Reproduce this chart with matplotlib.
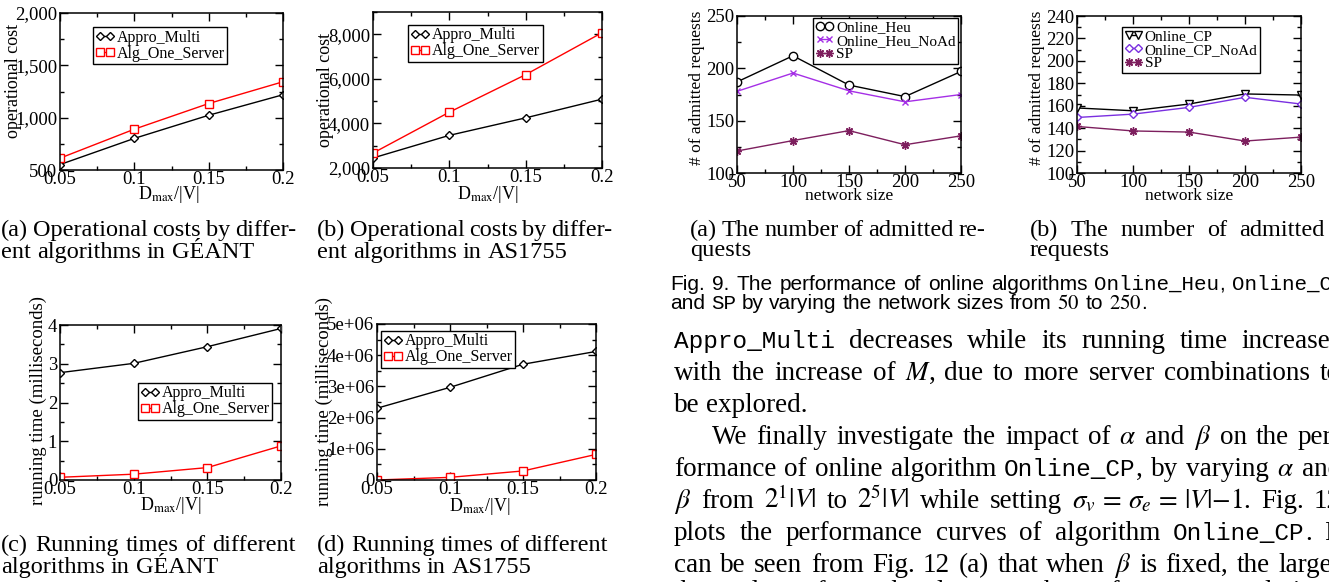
import matplotlib
matplotlib.use('Agg')
import matplotlib.pyplot as plt
from matplotlib.ticker import MultipleLocator, FuncFormatter

W, H = 1329, 582
plt.rcParams['font.family'] = ['Liberation Serif', 'DejaVu Serif']
plt.rcParams['mathtext.fontset'] = 'stix'

# ---------------- data ----------------
dmax = [0.05, 0.1, 0.15, 0.2]
geant_cost_multi = [552, 802, 1023, 1219]
geant_cost_one = [613, 890, 1135, 1343]
as_cost_multi = [2450, 3465, 4250, 5090]
as_cost_one = [2670, 4505, 6190, 8070]
geant_time_multi = [2.77, 3.01, 3.44, 3.91]
geant_time_one = [0.07, 0.15, 0.32, 0.88]
as_time_multi = [2.30e6, 2.97e6, 3.71e6, 4.12e6]
as_time_one = [0.0, 0.085e6, 0.29e6, 0.82e6]

net_size = [50, 100, 150, 200, 250]
heu = [187, 212, 184, 173, 197]
heu_noad = [178, 195.5, 178.5, 168, 175]
sp_a = [121, 131, 140.5, 127, 135.5]
cp = [158, 155.5, 161.5, 170.5, 169.5]
cp_noad = [149.5, 152.5, 158.5, 167.5, 161.5]
sp_b = [141.5, 137.5, 136.5, 128.5, 132]

name_multi, name_one = 'Appro_Multi', 'Alg_One_Server'
name_heu, name_heu_noad, name_sp = 'Online_Heu', 'Online_Heu_NoAd', 'SP'
name_cp, name_cp_noad = 'Online_CP', 'Online_CP_NoAd'

RED = '#ff0000'
PURPLE = '#a52fe6'
VIOLET = '#7a2fe0'
MAROON = '#7d1f5e'

fig = plt.figure(figsize=(W / 100, H / 100), dpi=100)
renderer = fig.canvas.get_renderer()


def make_ax(l, t, r, b):
    return fig.add_axes([l / W, 1 - b / H, (r - l) / W, (b - t) / H])


def style(ax, xlim, ylim, xmaj, xmin, ymaj, ymin, xfmt, yfmt, fs=13.5):
    ax.set_xlim(xlim)
    ax.set_ylim(ylim)
    ax.xaxis.set_major_locator(MultipleLocator(xmaj))
    ax.xaxis.set_minor_locator(MultipleLocator(xmin))
    ax.yaxis.set_major_locator(MultipleLocator(ymaj))
    ax.yaxis.set_minor_locator(MultipleLocator(ymin))
    ax.xaxis.set_major_formatter(FuncFormatter(xfmt))
    ax.yaxis.set_major_formatter(FuncFormatter(yfmt))
    ax.tick_params(which='both', direction='in', top=True, right=True,
                   width=1.0, labelsize=fs)
    ax.tick_params(which='major', length=6)
    ax.tick_params(which='minor', length=3)
    ax.tick_params(axis='x', pad=1)
    ax.tick_params(axis='y', pad=2)
    for s in ax.spines.values():
        s.set_linewidth(1.1)


def legend(ax, anchor, fs=11.5):
    leg = ax.legend(loc='upper left', bbox_to_anchor=anchor, frameon=True,
                    fancybox=False, edgecolor='black', framealpha=1,
                    numpoints=2, handlelength=1.2, handletextpad=0.15,
                    borderpad=0.15, labelspacing=0.0, borderaxespad=0,
                    fontsize=fs)
    leg.get_frame().set_linewidth(1.0)


fmt_g = lambda v, p: f'{v:g}'
fmt_comma = lambda v, p: f'{v:,.0f}'
fmt_int = lambda v, p: f'{v:.0f}'
fmt_e = lambda v, p: '0' if abs(v) < 1 else f'{v / 1e6:.0f}e+06'

xl_dmax = r'D$_{\mathrm{max}}$/|V|'

mk_multi = dict(color='black', marker='D', ms=4.2, mfc='white', mew=1.0, lw=1.0)
mk_one = dict(color=RED, marker='s', ms=5.2, mfc='white', mew=1.0, lw=1.0)

# (a) operational cost GEANT
ax = make_ax(60, 13, 283, 170)
ax.plot(dmax, geant_cost_multi, label=name_multi, **mk_multi)
ax.plot(dmax, geant_cost_one, label=name_one, **mk_one)
style(ax, (0.05, 0.2), (500, 2000), 0.05, 0.025, 500, 250, fmt_g, fmt_comma)
ax.set_ylabel('operational cost', fontsize=13)
ax.yaxis.set_label_coords(-0.17, 0.57)
ax.set_xlabel(xl_dmax, fontsize=13)
ax.xaxis.set_label_coords(0.49, -0.09)
legend(ax, (0.148, 0.91))

# (b) operational cost AS1755
ax = make_ax(373, 12, 602, 168)
ax.plot(dmax, as_cost_multi, label=name_multi, **mk_multi)
ax.plot(dmax, as_cost_one, label=name_one, **mk_one)
style(ax, (0.05, 0.2), (2000, 9000), 0.05, 0.025, 2000, 1000, fmt_g, fmt_comma)
ax.set_ylabel('operational cost', fontsize=13)
ax.yaxis.set_label_coords(-0.17, 0.5)
ax.set_xlabel(xl_dmax, fontsize=13)
ax.xaxis.set_label_coords(0.5, -0.1)
legend(ax, (0.153, 0.917))

# (c) running time GEANT
ax = make_ax(60, 325, 281, 480)
ax.plot(dmax, geant_time_multi, label=name_multi, **mk_multi)
ax.plot(dmax, geant_time_one, label=name_one, **mk_one)
style(ax, (0.05, 0.2), (0, 4), 0.05, 0.025, 1, 0.5, fmt_g, fmt_int)
ax.set_ylabel('running time (milliseconds)', fontsize=13.5)
ax.yaxis.set_label_coords(-0.06, 0.51)
ax.set_xlabel(xl_dmax, fontsize=13)
ax.xaxis.set_label_coords(0.5, -0.1)
legend(ax, (0.353, 0.626))

# (d) running time AS1755
ax = make_ax(377, 324, 596, 480)
ax.plot(dmax, as_time_multi, label=name_multi, **mk_multi)
ax.plot(dmax, as_time_one, label=name_one, **mk_one)
style(ax, (0.05, 0.2), (0, 5e6), 0.05, 0.025, 1e6, 0.5e6, fmt_g, fmt_e)
ax.set_ylabel('running time (milliseconds)', fontsize=13.5)
ax.yaxis.set_label_coords(-0.2, 0.5)
ax.set_xlabel(xl_dmax, fontsize=13)
ax.xaxis.set_label_coords(0.47, -0.1)
legend(ax, (0.018, 0.955))

# right (a)
ax = make_ax(737, 16, 961, 173)
ax.plot(net_size, heu, label=name_heu, color='black', marker='o', ms=6,
        mfc='white', mew=1.0, lw=1.0)
ax.plot(net_size, heu_noad, label=name_heu_noad, color=PURPLE, marker='x',
        ms=5, mew=1.0, lw=1.0)
ax.plot(net_size, sp_a, label=name_sp, color=MAROON, marker=(8, 2, 0),
        ms=6, mew=1.0, lw=1.0)
style(ax, (50, 250), (100, 250), 50, 25, 50, 25, fmt_int, fmt_int)
ax.set_ylabel('# of admitted requests', fontsize=12.5)
ax.yaxis.set_label_coords(-0.143, 0.54)
ax.set_xlabel('network size', fontsize=12.5)
ax.xaxis.set_label_coords(0.5, -0.095)
legend(ax, (0.34, 0.987), fs=11)

# right (b)
ax = make_ax(1077, 16, 1301, 173)
ax.plot(net_size, cp, label=name_cp, color='black', marker='v', ms=6,
        mfc='white', mew=1.0, lw=1.0)
ax.plot(net_size, cp_noad, label=name_cp_noad, color=VIOLET, marker='D',
        ms=4.5, mfc='white', mew=1.0, lw=1.0)
ax.plot(net_size, sp_b, label=name_sp, color=MAROON, marker=(8, 2, 0),
        ms=6, mew=1.0, lw=1.0)
style(ax, (50, 250), (100, 240), 50, 25, 20, 10, fmt_int, fmt_int)
ax.set_ylabel('# of admitted requests', fontsize=12.5)
ax.yaxis.set_label_coords(-0.143, 0.54)
ax.set_xlabel('network size', fontsize=12.5)
ax.xaxis.set_label_coords(0.5, -0.095)
legend(ax, (0.20, 0.93), fs=11)

# ---------------- text helpers ----------------
FONTS = {
    'serif': (dict(family=['Liberation Serif', 'DejaVu Serif']), 1.0),
    'mono': (dict(family=['Liberation Mono', 'DejaVu Sans Mono']), 0.9),
    'monoc': (dict(family=['Liberation Mono', 'DejaVu Sans Mono']), 1.0),
    'sans': (dict(family=['Liberation Sans Narrow', 'Liberation Sans', 'DejaVu Sans']), 1.0),
}


def text_width(s, key, size):
    kw, sc = FONTS[key]
    t = fig.text(0, 0, s, fontsize=size * sc, **kw)
    w = t.get_window_extent(renderer).width
    t.remove()
    return w


def space_width(key, size):
    return text_width('x x', key, size) - text_width('xx', key, size)


def tokenize(spec):
    """spec: list of (text, key); text split on spaces; '~' prefix means glued."""
    toks = []
    for s, key in spec:
        glued = s.startswith('~')
        if glued:
            s = s[1:]
        for i, word in enumerate(s.split(' ')):
            if word == '':
                continue
            toks.append((word, key, not (glued and i == 0) and len(toks) > 0))
    return toks


def draw_line(spec, x0, ybase, size, right=None, color='black', spkey='serif'):
    toks = tokenize(spec)
    widths = [text_width(w, k, size) for w, k, _ in toks]
    ngaps = sum(1 for _, _, g in toks if g)
    sp = space_width(spkey, size)
    if right is not None and ngaps:
        gap = (right - x0 - sum(widths)) / ngaps
        gap = max(gap, 0.6 * sp)
    else:
        gap = sp
    x = x0
    for (w, k, g), wd in zip(toks, widths):
        if g:
            x += gap
        kw, sc = FONTS[k]
        fig.text(x / W, 1 - ybase / H, w, fontsize=size * sc, va='baseline',
                 ha='left', color=color, **kw)
        x += wd


# ---------------- sub-captions ----------------
cap_size = 17.5
draw_line([('(a) Operational costs by differ-', 'serif')], 1, 236, cap_size, right=296)
draw_line([('ent algorithms in GÉANT', 'serif')], 1, 258, cap_size)
draw_line([('(b) Operational costs by differ-', 'serif')], 317, 236, cap_size, right=612)
draw_line([('ent algorithms in AS1755', 'serif')], 317, 258, cap_size)
draw_line([('(c) Running times of different', 'serif')], 1, 551, cap_size, right=296)
draw_line([('algorithms in GÉANT', 'serif')], 1, 573, cap_size)
draw_line([('(d) Running times of different', 'serif')], 317, 551, cap_size, right=608)
draw_line([('algorithms in AS1755', 'serif')], 317, 573, cap_size)

draw_line([('(a) The number of admitted re-', 'serif')], 690, 236, cap_size, right=985)
draw_line([('quests', 'serif')], 690, 256, cap_size)
draw_line([('(b) The number of admitted', 'serif')], 1030, 236, cap_size, right=1325)
draw_line([('requests', 'serif')], 1030, 256, cap_size)

# Fig. 9 caption (sans)
fs9 = 15.0
draw_line([('Fig. 9. The performance of online algorithms', 'sans'),
           ('Online_Heu', 'monoc'), ('~,', 'sans'), ('Online_CP', 'monoc'),
           ('~,', 'sans')], 670, 290, fs9, right=1350, spkey='sans')
draw_line([('and', 'sans'), ('SP', 'monoc'),
           ('by varying the network sizes from', 'sans'), ('$50$', 'serif'),
           ('to', 'sans'), ('$250$', 'serif'), ('~.', 'sans')], 670, 309, fs9,
          spkey='sans')

# ---------------- body text ----------------
bs = 19.5
R = 1341
draw_line([('Appro_Multi', 'mono'), ('decreases while its running time increases', 'serif')],
          674, 348, bs, right=R)
draw_line([('with the increase of $M$, due to more server combinations to', 'serif')],
          674, 380, bs, right=R)
draw_line([('be explored.', 'serif')], 674, 412, bs)
draw_line([('We finally investigate the impact of $\\alpha$ and $\\beta$ on the per-', 'serif')],
          712, 444, bs, right=R)
draw_line([('formance of online algorithm', 'serif'), ('Online_CP', 'mono'),
           ('~, by varying $\\alpha$ and', 'serif')], 674, 476, bs, right=R)
draw_line([('$\\beta$ from $2^1|V|$ to $2^5|V|$ while setting '
            '$\\sigma_v\\,=\\,\\sigma_e\\,=\\,|V|{-}1$. Fig. 12', 'serif')],
          674, 508, bs, right=R)
draw_line([('plots the performance curves of algorithm', 'serif'), ('Online_CP', 'mono'),
           ('~. It', 'serif')], 674, 540, bs, right=R)
draw_line([('can be seen from Fig. 12 (a) that when $\\beta$ is fixed, the larger', 'serif')],
          674, 572, bs, right=R)
draw_line([('the value of $\\alpha$, the less number of requests admitted', 'serif')],
          674, 599, bs, right=R)

fig.savefig('out.png', dpi=100)
